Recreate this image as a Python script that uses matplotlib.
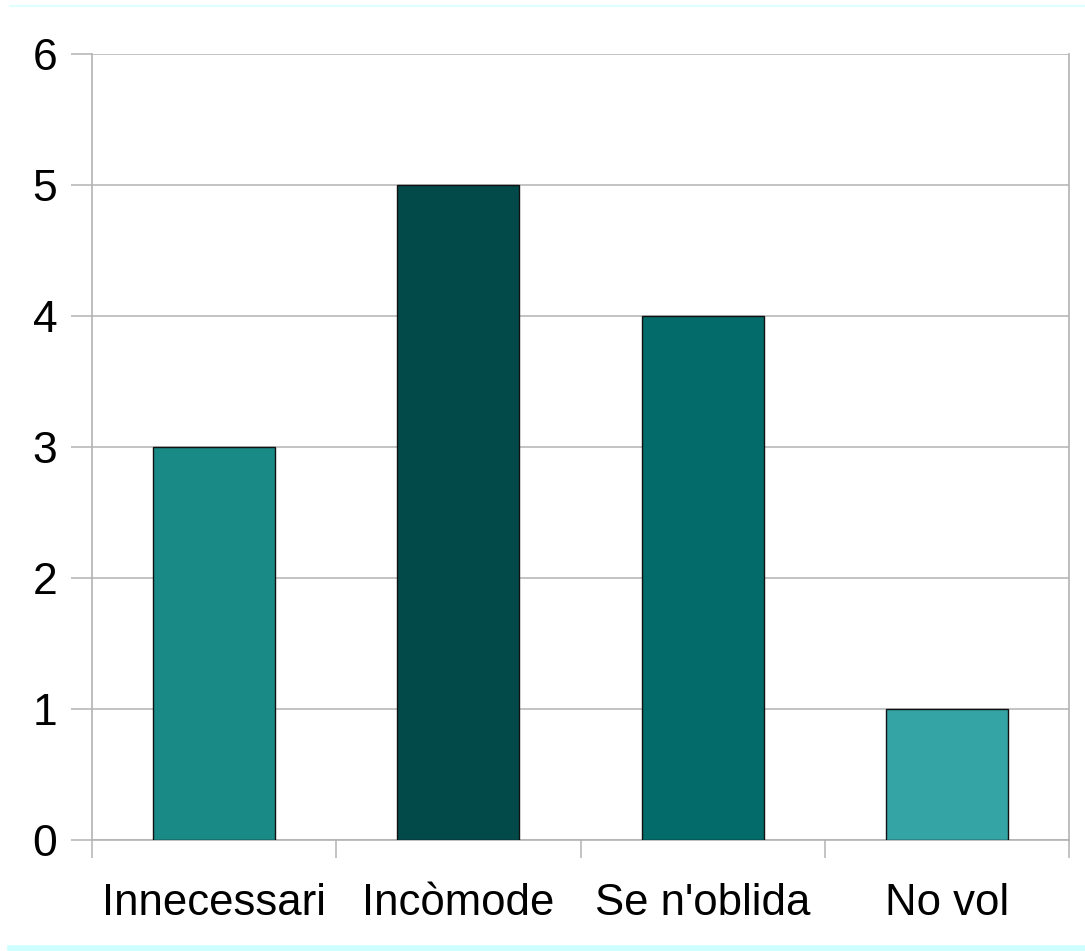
import matplotlib.pyplot as plt
from matplotlib.lines import Line2D

categories = ["Innecessari", "Incòmode", "Se n'oblida", "No vol"]
values = [3, 5, 4, 1]
colors = ["#1a8a87", "#024a4a", "#036b6a", "#34a4a5"]

plt.rcParams['font.family'] = ['Liberation Sans', 'DejaVu Sans']

fig = plt.figure(figsize=(10.85, 9.51), dpi=100)
ax = fig.add_axes([92 / 1085, 1 - 840 / 951, (1069 - 92) / 1085, (840 - 54) / 951])

x = range(len(categories))
ax.bar(x, values, width=0.5, color=colors, edgecolor='#111111', linewidth=1.0, zorder=3)

ax.set_xlim(-0.5, len(categories) - 0.5)
ax.set_ylim(0, 6)
ax.set_yticks(range(0, 7))
ax.yaxis.grid(True, color='#b3b3b3', linewidth=1.1, zorder=0)
ax.tick_params(axis='y', length=15, color='#b3b3b3', width=1.1, labelsize=32, pad=10)

ax.set_xticks([i - 0.5 for i in range(len(categories) + 1)])
ax.set_xticklabels([])
ax.set_xticks(list(x), minor=True)
ax.set_xticklabels(categories, minor=True, fontsize=31.5)
ax.tick_params(axis='x', which='major', length=13, color='#b3b3b3', width=1.1)
ax.tick_params(axis='x', which='minor', length=0, pad=31)

ax.spines['top'].set_visible(False)
for s in ['left', 'right', 'bottom']:
    ax.spines[s].set_color('#b3b3b3')
    ax.spines[s].set_linewidth(1.2)

fig.add_artist(Line2D([10 / 1085, 1], [1 - 6 / 951, 1 - 6 / 951], color='#e0ffff', linewidth=1.5))
fig.add_artist(Line2D([10 / 1085, 1], [1 - 948 / 951, 1 - 948 / 951], color='#ccffff', linewidth=4))

fig.savefig('out.png', dpi=100)
